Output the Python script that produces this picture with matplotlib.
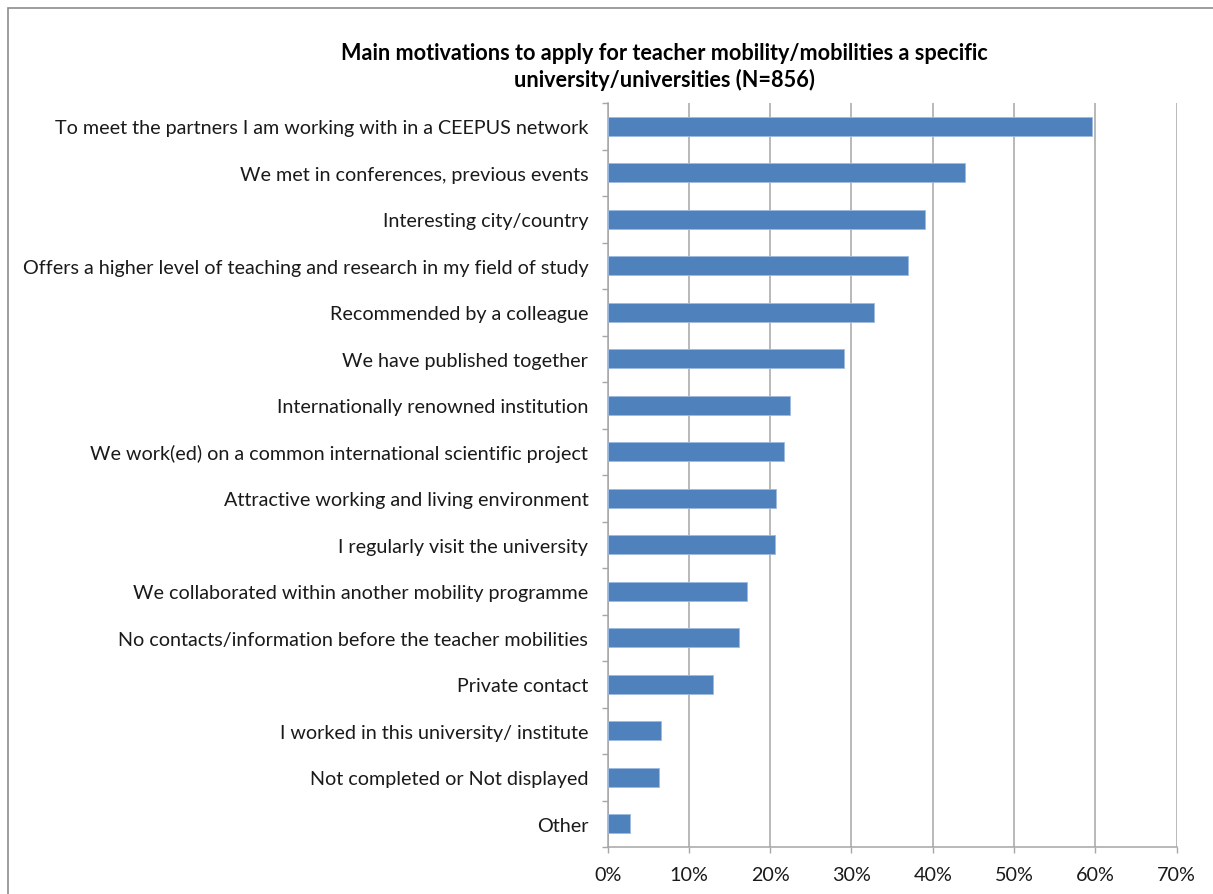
import matplotlib
matplotlib.use("Agg")
import matplotlib.pyplot as plt
from matplotlib.patches import Rectangle
from matplotlib.ticker import FixedLocator

labels = [
    "To meet the partners I am working with in a CEEPUS network",
    "We met in conferences, previous events",
    "Interesting city/country",
    "Offers a higher level of teaching and research in my field of study",
    "Recommended by a colleague",
    "We have published together",
    "Internationally renowned institution",
    "We work(ed) on a common international scientific project",
    "Attractive working and living environment",
    "I regularly visit the university",
    "We collaborated within another mobility programme",
    "No contacts/information before the teacher mobilities",
    "Private contact",
    "I worked in this university/ institute",
    "Not completed or Not displayed",
    "Other",
]
values = [59.6, 44.0, 39.0, 37.0, 32.8, 29.1, 22.4, 21.7, 20.7, 20.6,
          17.2, 16.2, 12.9, 6.6, 6.3, 2.8]
xticks = [0, 10, 20, 30, 40, 50, 60, 70]

plt.rcParams['font.family'] = ['Lato', 'DejaVu Sans']

W, H = 1213, 895
fig = plt.figure(figsize=(W / 100, H / 100), dpi=100)
ax = fig.add_axes([607.7 / W, 1 - 848 / H, (1176.5 - 607.7) / W, (848 - 104) / H])

grey = '#a6a6a6'
ypos = list(range(len(labels)))
ax.barh(ypos, values, height=0.4, color='#4f81bd', edgecolor='#9dbbe0', linewidth=0.6, zorder=3)

ax.set_xlim(0, 70)
ax.set_ylim(len(labels) - 0.5, -0.5)
ax.set_xticks(xticks)
ax.set_xticklabels([f"{t}%" for t in xticks], fontsize=14.2, color='#1a1a1a')
ax.set_yticks(ypos)
ax.set_yticklabels(labels, fontsize=14.2, color='#1a1a1a')
ax.yaxis.set_minor_locator(FixedLocator([i - 0.5 for i in range(len(labels) + 1)]))
ax.tick_params(axis='y', which='major', length=0, pad=14)
ax.tick_params(axis='y', which='minor', length=4, width=1, color=grey, direction='out')
ax.tick_params(axis='x', which='major', length=4, width=1, color=grey, pad=10)

ax.grid(axis='x', color=grey, linewidth=1.1, zorder=0)
for s in ['top', 'right']:
    ax.spines[s].set_visible(False)
for s in ['left', 'bottom']:
    ax.spines[s].set_color(grey)
    ax.spines[s].set_linewidth(1.1)

fig.text(664 / W, 1 - 43 / H,
         "Main motivations to apply for teacher mobility/mobilities a specific\n"
         "university/universities (N=856)",
         ha='center', va='top', fontsize=15.6, fontweight='bold', linespacing=1.3)

fig.patches.append(Rectangle((8 / W, -0.1), 1.2, 1 - 9 / H + 0.1, transform=fig.transFigure,
                             fill=False, edgecolor='#8c8c8c', linewidth=1.2))

fig.savefig("out.png", dpi=100)
